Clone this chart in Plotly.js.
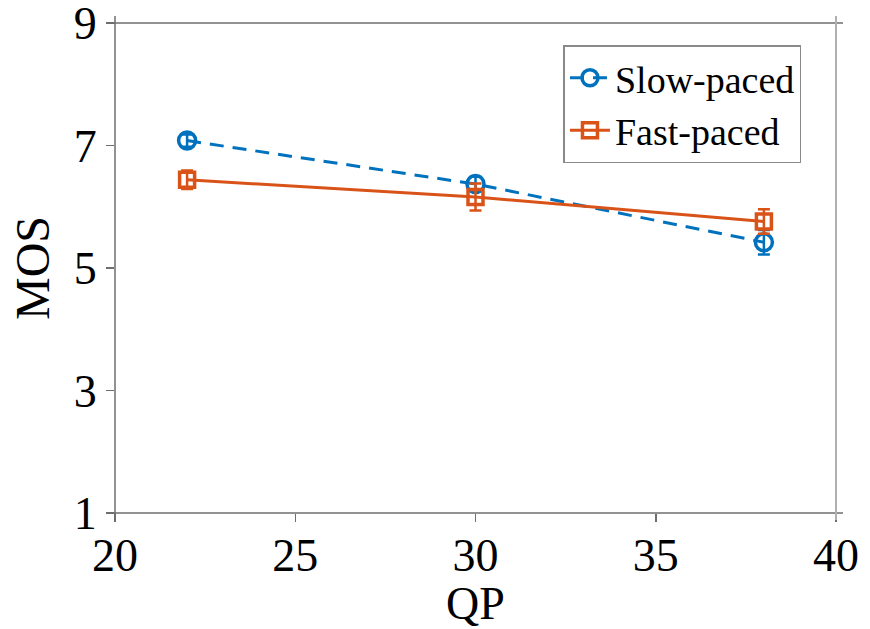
<!DOCTYPE html>
<html>
<head>
<meta charset="utf-8">
<script src="https://cdn.plot.ly/plotly-3.0.1.min.js"></script>
<style>html,body{margin:0;padding:0;background:#fff;}#chart{width:870px;height:629px;}</style>
</head>
<body>
<div id="chart"></div>
<script>
const qp = [22, 30, 38];
const slowMOS = [7.08, 6.37, 5.42];
const slowErr = [0.1, 0.12, 0.2];
const fastMOS = [6.44, 6.16, 5.76];
const fastErr = [0.15, 0.22, 0.2];
const seriesNames = ["Slow-paced", "Fast-paced"];
const xTicks = [20, 25, 30, 35, 40];
const yTicks = [1, 3, 5, 7, 9];

const blue = "#0072BD", orange = "#D95319";
const fontFam = "Liberation Serif";

const traces = [
  {
    x: qp, y: slowMOS, name: seriesNames[0], type: "scatter", mode: "lines+markers",
    line: {color: blue, width: 3, dash: "14px,9px"},
    marker: {symbol: "circle-open", size: 17, color: blue, line: {width: 3.5, color: blue}},
    error_y: {type: "data", array: slowErr, visible: true, color: blue, thickness: 2.5, width: 6}
  },
  {
    x: qp, y: fastMOS, name: seriesNames[1], type: "scatter", mode: "lines+markers",
    line: {color: orange, width: 3},
    marker: {symbol: "square-open", size: 15, color: orange, line: {width: 3.5, color: orange}},
    error_y: {type: "data", array: fastErr, visible: true, color: orange, thickness: 2.5, width: 6}
  }
];

const ex = 7 / 721, ey = 7 / 490;
const dark = "#6e6e6e", light = "#b0b0b0";
const layout = {
  width: 870, height: 629,
  margin: {l: 115, r: 34, t: 23, b: 116},
  paper_bgcolor: "#fff", plot_bgcolor: "#fff",
  font: {family: fontFam, color: "#000", size: 46},
  showlegend: true,
  legend: {
    x: 0.622, y: 0.955, xanchor: "left", yanchor: "top",
    bgcolor: "#fff", bordercolor: "#8a8a8a", borderwidth: 1.5,
    font: {family: fontFam, size: 38, color: "#000"},
    tracegroupgap: 0, itemwidth: 40
  },
  xaxis: {
    range: [20, 40], tickvals: xTicks, ticktext: xTicks.map(String),
    showgrid: false, zeroline: false, showline: false,
    ticks: "outside", ticklen: 8, tickwidth: 1.5, tickcolor: dark,
    ticklabeloverflow: "allow", ticklabelstandoff: -6,
    tickfont: {family: fontFam, size: 46, color: "#000"},
    title: {text: "QP", font: {family: fontFam, size: 46, color: "#000"}, standoff: 5}
  },
  yaxis: {
    range: [1, 9], tickvals: yTicks, ticktext: yTicks.map(String),
    showgrid: false, zeroline: false, showline: false,
    ticks: "outside", ticklen: 8, tickwidth: 1.5, tickcolor: dark,
    ticklabeloverflow: "allow",
    tickfont: {family: fontFam, size: 46, color: "#000"},
    title: {text: "MOS", font: {family: fontFam, size: 48, color: "#000"}, standoff: 8}
  },
  shapes: [
    {type: "line", xref: "paper", yref: "paper", x0: -ex, x1: 1 + ex, y0: 0, y1: 0, line: {color: dark, width: 1.5}},
    {type: "line", xref: "paper", yref: "paper", x0: -ex, x1: 1 + ex, y0: 1, y1: 1, line: {color: dark, width: 1.5}},
    {type: "line", xref: "paper", yref: "paper", x0: 0, x1: 0, y0: -ey, y1: 1 + ey, line: {color: dark, width: 1.5}},
    {type: "line", xref: "paper", yref: "paper", x0: 1, x1: 1, y0: -ey, y1: 1 + ey, line: {color: light, width: 2}}
  ]
};

Plotly.newPlot("chart", traces, layout, {displayModeBar: false, staticPlot: true});
</script>
</body>
</html>
